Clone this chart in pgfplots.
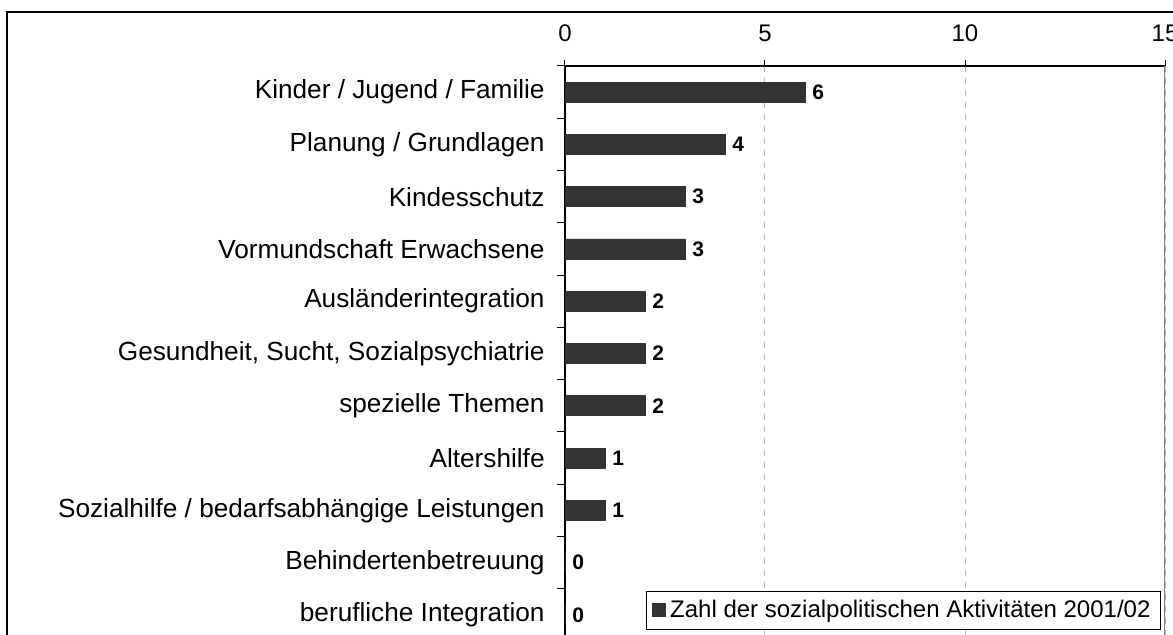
\documentclass[border=0pt]{standalone}
\usepackage{pgfplots}
\pgfplotsset{compat=1.18}
\usepackage{fontspec}
\setmainfont{Liberation Sans}
\definecolor{barc}{HTML}{333333}
\begin{document}
\begin{tikzpicture}
\useasboundingbox (0,0) rectangle (586.5pt,317.5pt);
\draw[line width=0.8pt] (3.5pt,311.5pt) rectangle (620pt,-30pt);
\begin{axis}[
  at={(282.5pt,284.5pt)}, anchor=north west,
  scale only axis, width=300pt, height=287.5pt,
  xbar, bar width=10pt,
  xmin=0, xmax=15, ymin=-0.5, ymax=10.5, y dir=reverse,
  enlargelimits=false,
  axis x line*=top, axis y line*=left,
  xtick={0,5,10,15},
  ytick={0,1,2,3,4,5,6,7,8,9,10},
  yticklabels={Kinder / Jugend / Familie, Planung / Grundlagen, Kindesschutz, Vormundschaft Erwachsene, Ausländerintegration, {Gesundheit, Sucht, Sozialpsychiatrie}, spezielle Themen, Altershilfe, Sozialhilfe / bedarfsabhängige Leistungen, Behindertenbetreuung, berufliche Integration},
  minor ytick={-0.5,0.5,1.5,2.5,3.5,4.5,5.5,6.5,7.5,8.5,9.5,10.5},
  tick align=outside, major tick length=3pt, minor tick length=4pt,
  major y tick style={draw=none},
  tick style={black, line width=0.5pt},
  axis line style={black, line width=0.6pt},
  xmajorgrids, grid style={dash pattern=on 3pt off 3pt, gray!55, line width=0.5pt},
  /pgf/number format/assume math mode=true,
  xticklabel style={font=\fontsize{12}{14}\selectfont, inner sep=0pt, yshift=9pt},
  yticklabel style={font=\fontsize{13.1}{15}\selectfont, inner sep=0pt, xshift=-7pt},
  nodes near coords,
  nodes near coords style={font=\bfseries\fontsize{10.5}{11}\selectfont, anchor=west, inner sep=0pt, xshift=3.5pt},
  legend style={at={(0.9933,0.019)}, anchor=south east, draw=black, line width=0.5pt,
    font=\fontsize{12}{14}\selectfont, inner xsep=3pt, inner ysep=2.5pt, row sep=0pt},
  legend cell align=left,
  legend image code/.code={\fill[barc] (0pt,-3.25pt) rectangle (6.5pt,3.25pt);},
]
\addplot[fill=barc, draw=barc] coordinates {
  (6,0) (4,1) (3,2) (3,3) (2,4) (2,5) (2,6) (1,7) (1,8) (0,9) (0,10)
};
\addlegendentry{Zahl der sozialpolitischen Aktivitäten 2001/02}
\draw[gray, line width=0.6pt] (axis cs:15,-0.5) -- (axis cs:15,10.5);
\end{axis}
\end{tikzpicture}
\end{document}
